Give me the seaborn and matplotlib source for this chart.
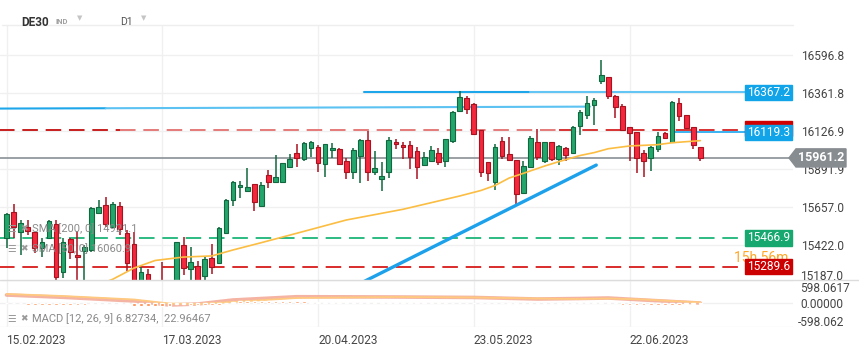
import matplotlib
matplotlib.use("Agg")
import matplotlib.pyplot as plt
import matplotlib.transforms as mtransforms
from matplotlib.patches import Polygon, Rectangle
from matplotlib.lines import Line2D
import numpy as np
import pandas as pd
import seaborn as sns

# daily candles, 15.02.2023 .. early July 2023
opens = [15469, 15629, 15502, 15533, 15502, 15403, 15465, 15551, 15257, 15459,
         15362, 15386, 15393, 15619, 15670, 15537, 15664, 15496, 15428, 15160,
         15244, 14980, 15190, 15000, 15150, 15422, 15274, 15294, 15234, 15345,
         15310, 15500, 15700, 15780, 15759, 15800, 15666, 15856, 15814, 15811,
         15907, 15990, 15953, 16024, 16027, 15922, 16008, 16016, 15940, 15876,
         15975, 16072, 15873, 15833, 15873, 16060, 16041, 16041, 16004, 15916,
         15944, 15990, 15944, 16068, 16253, 16329, 16294, 16134, 15936, 15814,
         16066, 15985, 15948, 15747, 15903, 16060, 15944, 16058, 15953, 16021,
         15990, 16158, 16224, 16286, 16438, 16459, 16344, 16282, 16150, 16119,
         15990, 15959, 16018, 16113, 16061, 16299, 16224, 16150, 16027]
highs = [15620, 15675, 15578, 15578, 15506, 15469, 15578, 15575, 15465, 15465,
         15512, 15424, 15656, 15701, 15722, 15687, 15687, 15516, 15502, 15288,
         15275, 15150, 15320, 15150, 15445, 15471, 15409, 15323, 15356, 15430,
         15537, 15706, 15821, 15819, 15901, 15803, 15814, 15887, 15979, 15931,
         15985, 16047, 16058, 16068, 16041, 16048, 16052, 16024, 15959, 16021,
         16076, 16129, 16004, 15936, 16089, 16076, 16060, 16066, 16031, 15998,
         16035, 16024, 16078, 16253, 16375, 16345, 16299, 16136, 15938, 16045,
         16089, 16089, 15950, 15942, 16097, 16138, 16060, 16060, 16038, 16027,
         16156, 16257, 16344, 16333, 16566, 16461, 16350, 16292, 16152, 16121,
         16010, 16033, 16121, 16121, 16310, 16329, 16226, 16152, 16031]
lows = [15403, 15465, 15362, 15485, 15374, 15351, 15463, 15189, 15220, 15337,
        15195, 15190, 15382, 15615, 15537, 15527, 15485, 15260, 15100, 15130,
        15050, 14900, 14950, 14900, 15120, 15238, 15190, 15170, 15195, 15244,
        15305, 15497, 15666, 15716, 15749, 15634, 15663, 15777, 15811, 15808,
        15905, 15907, 15944, 15965, 15876, 15845, 15963, 15915, 15829, 15829,
        15808, 15821, 15856, 15759, 15839, 16015, 15956, 15895, 15829, 15914,
        15936, 15916, 15907, 16052, 16247, 16231, 16101, 15845, 15821, 15763,
        15955, 15945, 15677, 15745, 15900, 15948, 15932, 15942, 15918, 15942,
        15985, 16100, 16203, 16165, 16416, 16325, 16210, 16130, 15944, 15866,
        15842, 15882, 16000, 16078, 16059, 16191, 16138, 16018, 15944]
closes = [15613, 15537, 15561, 15510, 15403, 15440, 15572, 15226, 15440, 15382,
          15348, 15413, 15650, 15660, 15551, 15675, 15520, 15310, 15150, 15259,
          15100, 15100, 15000, 15080, 15440, 15280, 15317, 15195, 15335, 15286,
          15530, 15701, 15811, 15794, 15782, 15691, 15794, 15814, 15843, 15928,
          15955, 15963, 16052, 16058, 15932, 16045, 16023, 15922, 15873, 16010,
          16072, 15876, 15897, 15848, 16072, 16045, 16027, 15969, 15907, 15969,
          16008, 15934, 16076, 16247, 16336, 16262, 16107, 15876, 15870, 16027,
          15975, 15947, 15737, 15911, 16082, 15965, 16058, 15955, 16035, 15977,
          16154, 16243, 16299, 16319, 16473, 16345, 16274, 16134, 16113, 15959,
          15942, 16031, 16097, 16082, 16308, 16222, 16148, 16039, 15961.2]

date_labels = ["15.02.2023", "17.03.2023", "20.04.2023", "23.05.2023", "22.06.2023"]
date_pos = [0, 22, 44, 66, 88]

# SMA 50
sma_idx = [14, 15, 18, 21, 25, 29, 32, 36, 41, 48, 56, 60, 64, 67, 69, 71, 73,
           76, 78, 81, 83, 85, 88, 92, 94, 98]
sma_val = [15195, 15212, 15281, 15328, 15349, 15356, 15393, 15438, 15496, 15578,
           15644, 15685, 15726, 15760, 15791, 15837, 15866, 15911, 15938, 15976,
           15994, 16018, 16035, 16043, 16055, 16068]

# drawn objects
trend_idx = [50.5, 83.3]
trend_val = [15198, 15917]
channel_idx = [-1, 14, 82.4]
channel_val = [16266, 16268, 16278]

# MACD panel
macd_idx = [0, 8, 18, 23, 27, 32, 41, 55, 66, 75, 81, 85, 90, 94, 98]
macd_val = [213, 154, 59, -44, -18, 85, 169, 162, 150, 110, 123, 136, 85, 46, 7]
signal_val = [239, 187, 98, -5, -18, 33, 136, 162, 150, 123, 110, 123, 98, 59, 23]
hist_val = [-5, -5, -5, -35, -35, -35, -35, -35, -35, -35, -35, -35,
            -8, -8, -8, -15, -8, -8,
            -80, -80, -80, -80, -80, -80,
            -30, -30, -40, -40, -40, -40, -40,
            20, 40, 55, 70, 70, 70, 70, 70, 70, 70, 70, 70,
            40, 40, 40, 40, 40, 40, 40, 40, 40, 40, 40, 40, 40, 40, 40, 40, 40, 40, 40, 40,
            20, 20, 20, 20, 20, 20, 20, 20,
            -20, -20, -20, -20, -20, -20, -20, -20, -20, -20,
            25, 25, 25, 25, 25, 25,
            -40, -40, -40, -40, -40, -40, -40, -40, -40,
            -15, -15, -15]

price_ticks = [16596.8, 16361.8, 16126.9, 15891.9, 15657.0, 15422.0]

sns.set_theme(style="white")
plt.rcParams["font.family"] = ["Roboto", "DejaVu Sans"]

W, H = 859, 352
fig = plt.figure(figsize=(W / 100, H / 100), dpi=100)


def fx(px):
    return px / W


def fy(py):
    return 1 - py / H


ax = fig.add_axes([0, fy(280), fx(793), 255 / H])
axm = fig.add_axes([0, fy(326.6), fx(793), 46.6 / H], sharex=ax)

df = pd.DataFrame({"open": opens, "high": highs, "low": lows, "close": closes})
df["i"] = np.arange(len(df))
up = df["close"] >= df["open"]
fill = np.where(up, "#23a66c", "#f3283d")
edge = np.where(up, "#11683f", "#a8121f")

ax.vlines(df["i"], df["low"], df["high"], colors=edge, lw=1.1, zorder=3)
ax.bar(df["i"], (df["close"] - df["open"]).abs().clip(lower=5),
       bottom=df[["open", "close"]].min(axis=1), width=0.66,
       color=fill, edgecolor=edge, linewidth=0.8, zorder=4)

sns.lineplot(x=sma_idx, y=sma_val, ax=ax, color="#fbbd42", lw=1.2, zorder=5)
sns.lineplot(x=trend_idx, y=trend_val, ax=ax, color="#1da1ea", lw=2.4, zorder=5)
sns.lineplot(x=channel_idx[:2], y=channel_val[:2], ax=ax, color="#1ea6ea", lw=1.5, zorder=2)
sns.lineplot(x=channel_idx[1:], y=channel_val[1:], ax=ax, color="#5cc2f2", lw=1.5, zorder=2)

x_lab = (745 - 6.5) / 7.08
x_tag = (789 - 6.5) / 7.08
xmin = -1
dash = (0, (8, 4))
ax.plot([50.5, 74], [16367.2, 16367.2], color="#1ea6ea", lw=1.5, zorder=2)
ax.plot([74, x_lab], [16367.2, 16367.2], color="#62c5f3", lw=1.5, zorder=2)
ax.plot([xmin, 16], [16136, 16136], color="#c81e1e", lw=1.4, ls=dash, zorder=2)
ax.plot([16, 78], [16136, 16136], color="#e57a7a", lw=1.4, ls=dash, zorder=2)
ax.plot([78, x_lab], [16136, 16136], color="#d83232", lw=1.4, ls=dash, zorder=2)
ax.plot([94.4, x_lab], [16119.3, 16119.3], color="#3ab3f0", lw=1.4, zorder=2)
ax.plot([xmin, x_tag], [15961.2, 15961.2], color="#8a9096", lw=1.2, zorder=2)
ax.plot([xmin, x_lab], [15466.9, 15466.9], color="#2dbb82", lw=1.4, ls=dash, zorder=2)
ax.plot([xmin, x_lab], [15289.6, 15289.6], color="#d92b2b", lw=1.4, ls=dash, zorder=2)

ax.set_xlim(-0.92, 111.09)
ax.set_ylim(15207.4, 16782.0)
ax.set_yticks(price_ticks, labels=[f"{v:.1f}" for v in price_ticks])
ax.yaxis.tick_right()
ax.tick_params(axis="y", length=0, pad=6, labelsize=8.6, labelcolor="#454545")
ax.tick_params(axis="x", length=0, labelbottom=False)
ax.set_xticks(date_pos)
ax.grid(True, color="#f0f0f0", lw=1)
for s in ax.spines.values():
    s.set_visible(False)

# level labels on the right edge
blend = mtransforms.blended_transform_factory(ax.transAxes, ax.transData)
bx = 745 / 793
bw = 47 / 793
ax.text(0.9596, 15345, "15h 56m", transform=blend, color="#ffa726", fontsize=10,
        ha="center", va="center", zorder=6, clip_on=False)
boxes = [(16367.2, "#12a4e8", "16367.2"),
         (16141, "#d00000", ""),
         (16119.3, "#12a4e8", "16119.3"),
         (15466.9, "#17a86f", "15466.9"),
         (15289.6, "#cc0000", "15289.6")]
for val, col, txt in boxes:
    ax.add_patch(Rectangle((bx, val - 47), bw, 94, transform=blend, color=col,
                           zorder=7, clip_on=False))
    if txt:
        ax.text(bx + bw / 2, val, txt, transform=blend, color="white", fontsize=8.6,
                ha="center", va="center", zorder=8, clip_on=False)

fblend = mtransforms.blended_transform_factory(fig.transFigure, ax.transData)
p = 15961.2
tag = Polygon([(fx(789), p), (fx(796), p + 56), (fx(846), p + 56),
               (fx(846), p - 56), (fx(796), p - 56)],
              closed=True, transform=fblend, color="#878c91", zorder=9, clip_on=False)
fig.add_artist(tag)
fig.text(fx(821), fy(157.9), "15961.2", color="white", fontsize=9, weight="bold",
         ha="center", va="center", zorder=10)
fig.text(fx(800), fy(276), "15187.0", color="#454545", fontsize=8.6, va="center")

# MACD panel
sns.lineplot(x=macd_idx, y=macd_val, ax=axm, color="#f2a08c", lw=2.6, alpha=0.8, zorder=3)
sns.lineplot(x=macd_idx, y=signal_val, ax=axm, color="#ffca80", lw=1.3, zorder=4)
axm.bar(np.arange(len(hist_val)), hist_val, width=0.5, color="#ff843f", zorder=5)
axm.set_ylim(-598.0617, 598.0617)
axm.set_yticks([-598.0617, 0, 598.0617])
axm.tick_params(axis="y", length=0, labelright=False, labelleft=False)
axm.set_xticks(date_pos, labels=date_labels)
for lbl in axm.get_xticklabels():
    lbl.set_ha("left")
axm.tick_params(axis="x", length=0, pad=5, labelsize=8.6, labelcolor="#454545")
axm.grid(True, color="#f0f0f0", lw=1)
for s in axm.spines.values():
    s.set_visible(False)
for txt, xpx, ypx in [("598.0617", 800, 288), ("0.00000", 800, 304.7), ("-598.062", 798, 322.5)]:
    fig.text(fx(xpx), fy(ypx), txt, color="#454545", fontsize=8.6, va="center")

fig.add_artist(Line2D([0, 1], [fy(280), fy(280)], color="#dcdcdc", lw=1))
fig.add_artist(Line2D([fx(2), fx(793)], [fy(25), fy(25)], color="#eeeeee", lw=1))

# header and legends
fig.text(fx(21), fy(22), "DE30", fontsize=8.5, weight="bold", color="#333333", va="center")
fig.text(fx(55), fy(22), "IND", fontsize=5.5, weight="bold", color="#a0a0a0", va="center")
fig.text(fx(77), fy(19), "▼", fontsize=5, color="#c4c4c4", va="center")
fig.text(fx(120), fy(22), "D1", fontsize=7.5, color="#555555", va="center")
fig.text(fx(141), fy(19), "▼", fontsize=5, color="#c4c4c4", va="center")

legend_rows = [("SMA [200, 0] 14921.1", 229), ("SMA [50, 0] 16060.9", 249),
               ("MACD [12, 26, 9] 6.82734,  22.96467", 319)]
for txt, ypx in legend_rows:
    fig.text(fx(7), fy(ypx), "☰", fontsize=7, color="#9a9a9a", va="center", zorder=11,
             family=["DejaVu Sans"])
    fig.text(fx(20), fy(ypx), "✖", fontsize=6.5, color="#9a9a9a", va="center", zorder=11,
             family=["DejaVu Sans"])
    fig.text(fx(32), fy(ypx), txt, fontsize=8, color="#8a8a8a", va="center", zorder=11)

fig.savefig("out.png", dpi=100)
